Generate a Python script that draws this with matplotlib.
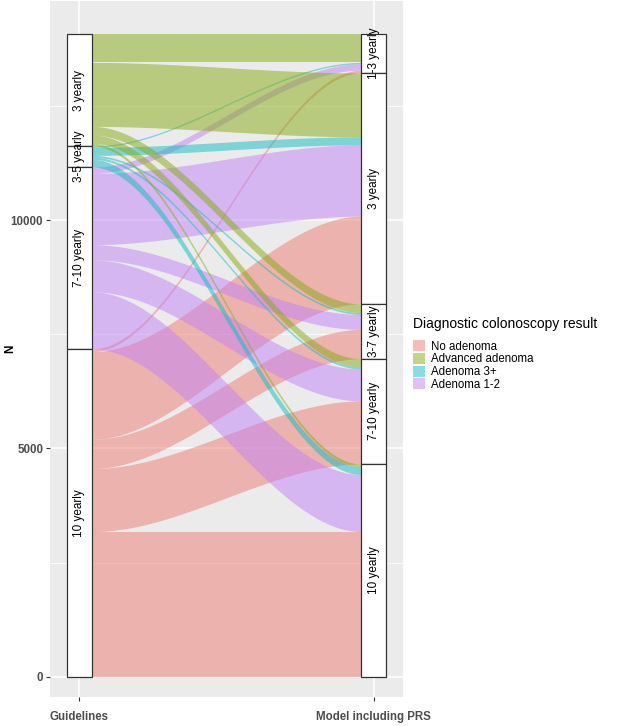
import numpy as np
import matplotlib.pyplot as plt
from matplotlib.patches import Patch

plt.rcParams['font.family'] = ['Liberation Sans', 'DejaVu Sans']

# axis categories
axis_names = ["Guidelines", "Model including PRS"]
guideline_cats = ["3 yearly", "3-5 yearly", "7-10 yearly", "10 yearly"]   # top -> bottom
model_cats = ["1-3 yearly", "3 yearly", "3-7 yearly", "7-10 yearly", "10 yearly"]  # top -> bottom

# diagnostic result (each result maps to one guideline stratum, same order as guideline_cats)
results = ["Advanced adenoma", "Adenoma 3+", "Adenoma 1-2", "No adenoma"]
legend_order = ["No adenoma", "Advanced adenoma", "Adenoma 3+", "Adenoma 1-2"]
colors = {"No adenoma": "#EE7A70", "Advanced adenoma": "#84AA10",
          "Adenoma 3+": "#10BCC0", "Adenoma 1-2": "#C282F5"}

# counts moving from the guideline stratum to each model stratum (model_cats order)
advanced = [620, 1400, 190, 180, 60]
adenoma_3plus = [30, 175, 40, 45, 170]
adenoma_12 = [140, 1560, 330, 700, 1250]
no_adenoma = [60, 1920, 640, 1380, 3180]

flows = np.array([advanced, adenoma_3plus, adenoma_12, no_adenoma], dtype=float)
total = flows.sum()

# lode positions: left axis stacked by guideline then model; right axis by model then guideline
left_top = total - np.concatenate([[0], np.cumsum(flows.ravel())[:-1]]).reshape(flows.shape)
right_top = (total - np.concatenate([[0], np.cumsum(flows.T.ravel())[:-1]])
             .reshape(flows.T.shape)).T

fig, ax = plt.subplots(figsize=(6.18, 7.26), dpi=100)
fig.subplots_adjust(left=0.081, right=0.652, bottom=0.04, top=0.999)
ax.set_facecolor('#EBEBEB')

w = 0.085
x1, x2 = 1 + w / 2, 2 - w / 2
t = np.linspace(0, 1, 200)
s = 3 * t ** 2 - 2 * t ** 3
xs = x1 + (x2 - x1) * t

for i in reversed(range(len(results))):
    for j in range(len(model_cats)):
        h = flows[i, j]
        top = left_top[i, j] + (right_top[i, j] - left_top[i, j]) * s
        ax.fill_between(xs, top - h, top, color=colors[results[i]], alpha=0.5, lw=0)

# strata boxes
def strata(xpos, sizes, labels):
    tops = total - np.concatenate([[0], np.cumsum(sizes)[:-1]])
    for tp, sz, lab in zip(tops, sizes, labels):
        ax.bar(xpos, sz, bottom=tp - sz, width=w, color='white',
               edgecolor='#333333', linewidth=0.9, zorder=3)
        ax.text(xpos, tp - sz / 2, lab, rotation=90, ha='center', va='center',
                fontsize=8.5, zorder=4)

strata(1, flows.sum(axis=1), guideline_cats)
strata(2, flows.sum(axis=0), model_cats)

ax.set_xlim(0.9, 2.1)
ax.set_ylim(-440, 14800)
ax.set_xticks([1, 2])
ax.set_xticklabels(axis_names, fontsize=8.3, fontweight='bold', color='#4D4D4D')
ax.set_yticks([0, 5000, 10000])
ax.set_yticks([2500, 7500, 12500], minor=True)
ax.set_yticklabels(['0', '5000', '10000'], fontsize=8.3, fontweight='bold', color='#4D4D4D')
ax.tick_params(axis='both', which='major', length=3, color='#333333', pad=2)
ax.tick_params(axis='x', which='major', pad=7)
ax.tick_params(axis='y', which='minor', length=0)
ax.grid(True, which='major', color='white', lw=1.1)
ax.grid(True, which='minor', axis='y', color='white', lw=0.55)
ax.set_axisbelow(True)
for sp in ax.spines.values():
    sp.set_visible(False)
ax.set_ylabel('N', fontsize=8.5, fontweight='bold')
ax.yaxis.set_label_coords(-0.096, 0.5)

handles = [Patch(facecolor=colors[r], alpha=0.5, edgecolor='none', label=r) for r in legend_order]
leg = ax.legend(handles=handles, title='Diagnostic colonoscopy result', loc='upper left',
                bbox_to_anchor=(408 / 618, 1 - 312 / 726), bbox_transform=fig.transFigure,
                frameon=False, fontsize=8.3, title_fontsize=10, handlelength=1.1,
                handleheight=1.1, labelspacing=0.02, handletextpad=0.5, alignment='left',
                borderaxespad=0)
leg._legend_box.sep = 7

fig.savefig('out.png', dpi=100)
